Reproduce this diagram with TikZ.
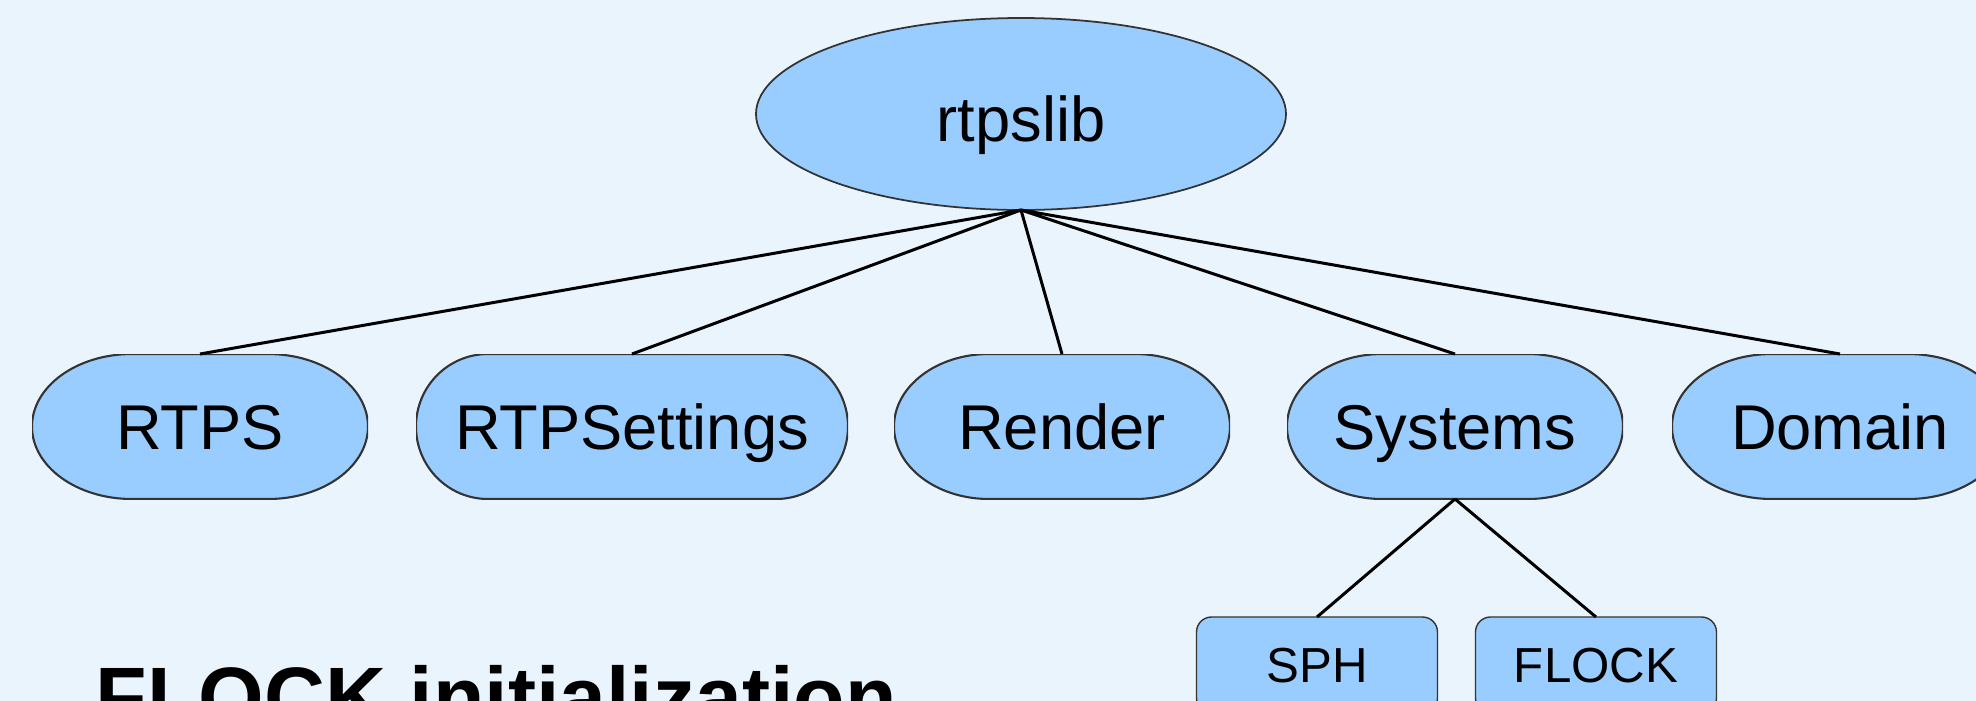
\documentclass[tikz,border=0pt]{standalone}
\usepackage{fontspec}
\setmainfont{Liberation Sans}
\usetikzlibrary{shapes.geometric}
\definecolor{bgblue}{HTML}{EAF4FD}
\definecolor{boxblue}{HTML}{99CCFF}
\definecolor{rim}{HTML}{333333}

\begin{document}
\begin{tikzpicture}[
    module/.style={ellipse, draw=rim, line width=0.5pt, fill=boxblue, minimum width=5.3cm, minimum height=1.92cm, inner sep=0pt, outer sep=0pt, font=\fontsize{18}{20}\selectfont, text height=15.7pt, text depth=0pt},
    capsule/.style 2 args={rectangle, minimum width=#1, minimum height=1.45cm, inner sep=0pt, outer sep=0pt, font=\fontsize{18}{20}\selectfont, text height=12.9pt, text depth=0pt,
        path picture={\draw[draw=rim, line width=0.6pt, fill=boxblue]
            ([xshift=#2]path picture bounding box.north west) -- ([xshift=-#2]path picture bounding box.north east)
            arc[start angle=90, end angle=-90, x radius=#2, y radius=0.725cm]
            -- ([xshift=#2]path picture bounding box.south west)
            arc[start angle=270, end angle=90, x radius=#2, y radius=0.725cm] -- cycle;}},
    subsys/.style={rectangle, rounded corners=0.15cm, draw=rim, line width=0.4pt, fill=boxblue, minimum width=2.41cm, minimum height=0.96cm, inner sep=0pt, outer sep=0pt, font=\fontsize{14}{16}\selectfont, text height=10pt, text depth=0pt},
    link/.style={line width=0.85pt},
    heading/.style={font=\fontsize{24}{28}\selectfont\bfseries, inner sep=0pt, anchor=base west}
]
    \useasboundingbox (0,0) rectangle (19.76,-7.01);
    \clip (0,0) rectangle (19.76,-7.01);
    \fill[bgblue] (0,0) rectangle (19.76,-7.01);

    % Library
    \node[module] (lib) at (10.21,-1.14) {rtpslib};

    % Modules
    \node[capsule={3.36cm}{1cm}] (rtps) at (2.00,-4.265) {RTPS};
    \node[capsule={4.32cm}{0.72cm}] (settings) at (6.32,-4.265) {RTPSettings};
    \node[capsule={3.36cm}{0.95cm}] (render) at (10.62,-4.265) {Render};
    \node[capsule={3.36cm}{0.95cm}] (systems) at (14.55,-4.265) {Systems};
    \node[capsule={3.36cm}{1cm}] (domain) at (18.40,-4.265) {Domain};

    % Systems
    \node[subsys] (sph) at (13.17,-6.65) {SPH};
    \node[subsys] (flock) at (15.96,-6.65) {FLOCK};

    % Links
    \draw[link] (lib.south) -- (rtps.north);
    \draw[link] (lib.south) -- (settings.north);
    \draw[link] (lib.south) -- (render.north);
    \draw[link] (lib.south) -- (systems.north);
    \draw[link] (lib.south) -- (domain.north);
    \draw[link] (systems.south) -- (sph.north);
    \draw[link] (systems.south) -- (flock.north);

    % Title
    \node[heading] (title) at (0.95,-7.26) {FLOCK initialization};

\end{tikzpicture}
\end{document}
